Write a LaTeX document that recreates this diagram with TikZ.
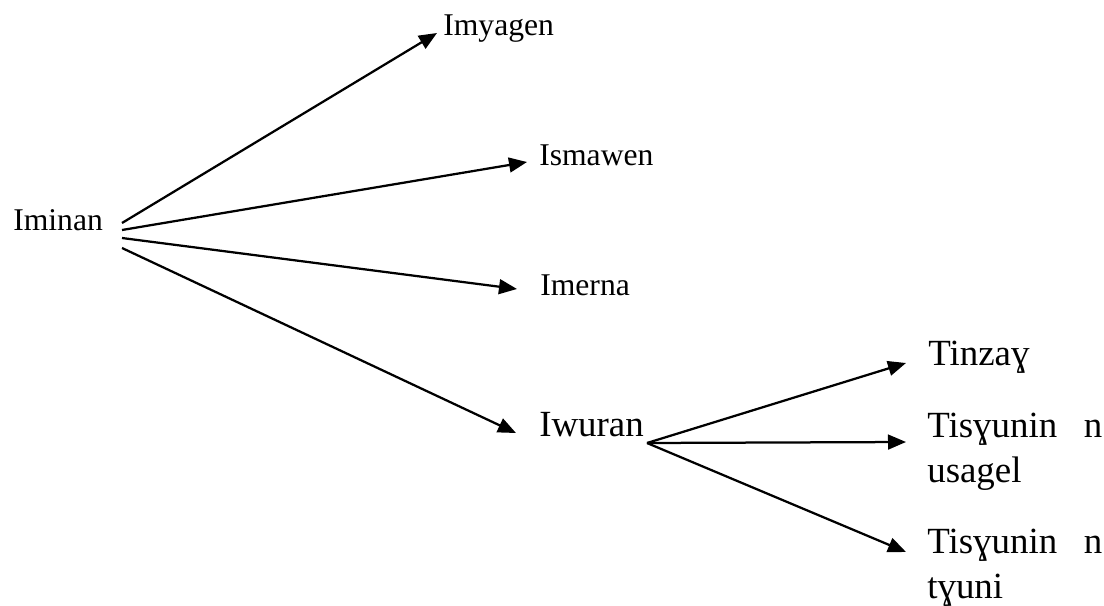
\documentclass[tikz,border=0pt]{standalone}
\usepackage{fontspec}
\setmainfont{Liberation Serif}
\usetikzlibrary{arrows.meta}
\definecolor{ink}{HTML}{000000}

\begin{document}
\begin{tikzpicture}[x=0.025cm,y=-0.025cm,
		small/.style={inner sep=0pt,anchor=base west,font=\fontsize{22.5}{27}\selectfont},
		big/.style={inner sep=0pt,anchor=base west,align=left,font=\fontsize{26.25}{32}\selectfont},
		link/.style={draw=ink,line width=1.6pt,-{Triangle[length=0.45cm,width=0.37cm]}}]
		%
		\useasboundingbox (0,0) rectangle (1104,605);
		%
		\node[small] (iminan) at (13,230) {Iminan};
		\node[small] (imyagen) at (443,35) {Imyagen};
		\node[small] (ismawen) at (539,165) {Ismawen};
		\node[small] (imerna) at (540,295) {Imerna};
		\node[big] (iwuran) at (539,436) {Iwuran};
		%
		\node[big] (tinzay) at (928,365) {Tinza\char"0263};
		\node[big] (usagel) at (927,482) {Tis\char"0263unin\hspace{0.72em}n\\usagel}; %base = last line
		\node[big] (tyuni) at (927,598) {Tis\char"0263unin\hspace{0.72em}n\\t\char"0263uni};
		%
		\draw[link] ([shift={(109,-7)}]iminan.base west) -- ([shift={(-6,-2)}]imyagen.base west); %up
		\draw[link] ([shift={(109,0)}]iminan.base west) -- ([shift={(-12,-3)}]ismawen.base west);
		\draw[link] ([shift={(109,8)}]iminan.base west) -- ([shift={(-23,-6)}]imerna.base west);
		\draw[link] ([shift={(109,18)}]iminan.base west) -- ([shift={(-23,-3)}]iwuran.base west); %down
		%
		\draw[link] ([shift={(108,7)}]iwuran.base west) -- ([shift={(-22,-2)}]tinzay.base west);
		\draw[link] ([shift={(108,7)}]iwuran.base west) -- ([shift={(-21,-40)}]usagel.base west);
		\draw[link] ([shift={(108,7)}]iwuran.base west) -- ([shift={(-21,-46)}]tyuni.base west);
	\end{tikzpicture}
\end{document}
